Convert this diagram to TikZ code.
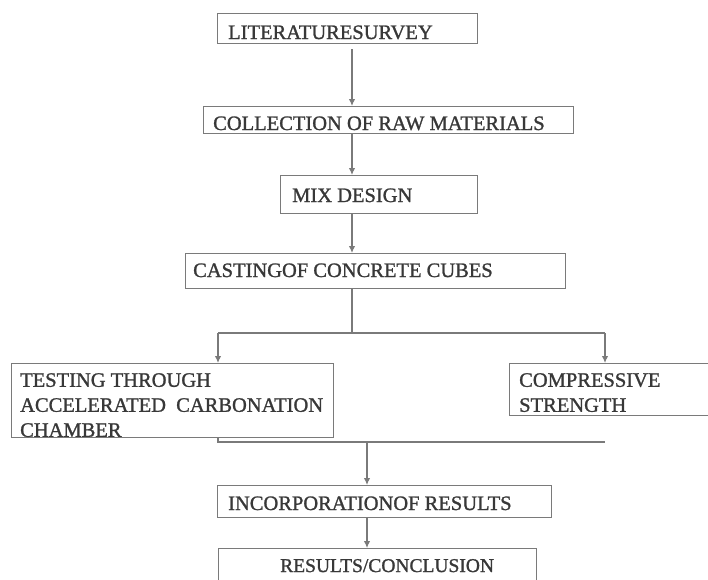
\documentclass[tikz,border=0pt]{standalone}
\usepackage{fontspec}
\setmainfont{Liberation Serif}
\newfontfamily\boxfont[BoldFont={Liberation Serif},BoldFeatures={FakeBold=1.2}]{Liberation Serif}
\usetikzlibrary{positioning,arrows.meta}

\definecolor{linegray}{HTML}{7A7A7A}
\definecolor{textgray}{HTML}{383838}

\tikzset{
  box/.style={draw=linegray, line width=1.2pt, rectangle, inner sep=0pt, anchor=north west},
  txt/.style={inner sep=0pt, anchor=base west, text=textgray, align=left,
              font=\boxfont\bfseries\fontsize{20.5}{25}\selectfont},
  link/.style={draw=linegray, line width=1.2pt},
  arr/.style={link, -{Latex[length=7pt,width=6.5pt]}}
}

\begin{document}
\begin{tikzpicture}[x=1pt,y=-1pt]
\useasboundingbox (0,0) rectangle (708,579);
\def\sp{352} % x of the main spine
\def\sj{367} % x of the lower spine

% boxes
\node[box, minimum width=260, minimum height=30] (lit) at (217,13) {};
\node[box, minimum width=370, minimum height=27] (coll) at (203,106) {};
\node[box, minimum width=197, minimum height=38] (mix) at (280,175) {};
\node[box, minimum width=380, minimum height=35] (cast) at (185,253) {};
\node[box, minimum width=322, minimum height=74] (test) at (11,363) {};
\node[box, minimum width=220, minimum height=52] (comp) at (509,363) {};
\node[box, minimum width=334, minimum height=32] (inc) at (217,485) {};
\node[box, minimum width=318, minimum height=45] (res) at (218,548) {};

% texts
\node[txt] (litT) at (228,39) {LITERATURESURVEY};
\node[txt] (collT) at (213,130) {COLLECTION OF RAW MATERIALS};
\node[txt] (mixT) at (292,202) {MIX DESIGN};
\node[txt] (castT) at (193,277) {CASTINGOF CONCRETE CUBES};
\node[txt, anchor=north west] (testT) at (20,373) {TESTING THROUGH\\ACCELERATED\ \ CARBONATION\\CHAMBER};
\node[txt, anchor=north west] (compT) at (519,373) {COMPRESSIVE\\STRENGTH};
\node[txt] (incT) at (228,510) {INCORPORATIONOF RESULTS};
\node[txt, font=\boxfont\bfseries\fontsize{19.5}{25}\selectfont] (resT) at (280,572) {RESULTS/CONCLUSION};

% spine points
\coordinate (spine) at (\sp,0);
\coordinate (fork) at (\sp,333);
\coordinate (lb) at (218,333);
\coordinate (rb) at (605,333);
\coordinate (jl) at (218,442);
\coordinate (jr) at (605,442);
\coordinate (mid) at (\sj,442);

\draw[arr] ([yshift=-5pt]lit.south -| spine) -- (coll.north -| spine);
\draw[arr] (coll.south -| spine) -- (mix.north -| spine);
\draw[arr] (mix.south -| spine) -- (cast.north -| spine);
\draw[link] (cast.south -| spine) -- (fork);
\draw[link] (lb) -- (rb);
\draw[arr] (lb) -- (lb |- test.north);
\draw[arr] (rb) -- (rb |- comp.north);
\draw[link] (jl |- test.south) -- (jl) -- (jr);
\draw[arr] (mid) -- (mid |- inc.north);
\draw[arr] (inc.south -| mid) -- (res.north -| mid);
\end{tikzpicture}
\end{document}
